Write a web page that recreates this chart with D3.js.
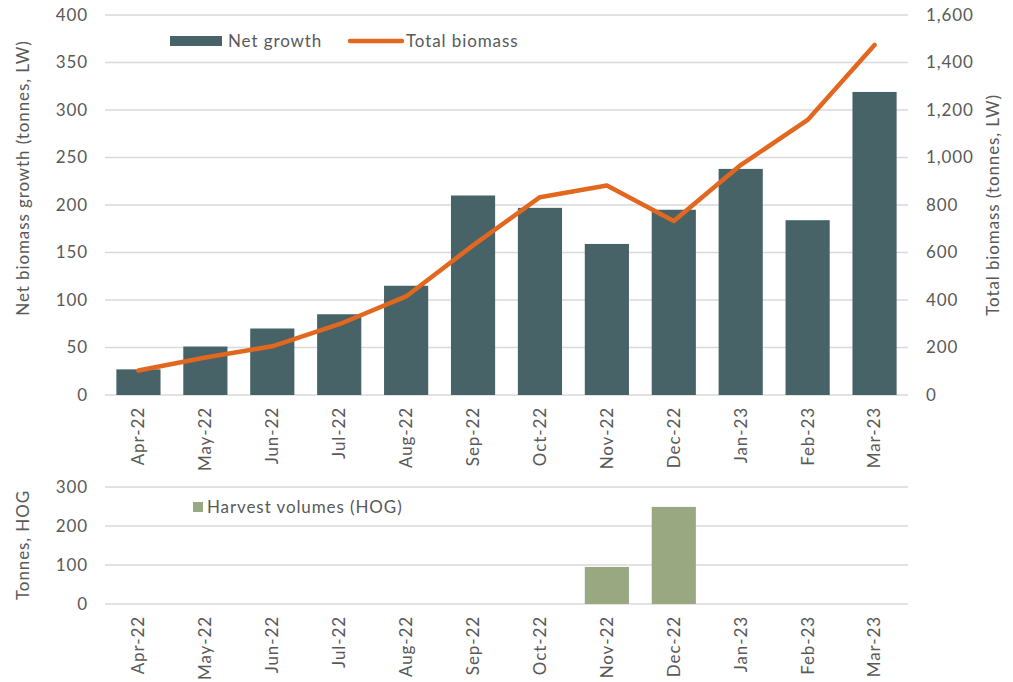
<!DOCTYPE html>
<html>
<head>
<meta charset="utf-8">
<script src="https://cdn.jsdelivr.net/npm/d3@7"></script>
<style>
  body { margin: 0; background: #fff; }
  text { font-family: "Century Gothic", "Lato", sans-serif; fill: #595959; letter-spacing: 0.9px; }
</style>
</head>
<body>
<svg id="chart" width="1013" height="682"></svg>
<script>
const months = ['Apr-22', 'May-22', 'Jun-22', 'Jul-22', 'Aug-22', 'Sep-22',
  'Oct-22', 'Nov-22', 'Dec-22', 'Jan-23', 'Feb-23', 'Mar-23'];
const netGrowth = [27, 51, 70, 85, 115, 210, 197, 159, 195, 238, 184, 319];
const totalBiomass = [103, 158, 205, 298, 415, 630, 833, 882, 733, 968, 1158, 1474];
const harvest = [0, 0, 0, 0, 0, 0, 0, 95, 249, 0, 0, 0];
const leftTicks = [0, 50, 100, 150, 200, 250, 300, 350, 400];
const rightTicks = [0, 200, 400, 600, 800, 1000, 1200, 1400, 1600];
const harvestTicks = [0, 100, 200, 300];

const svg = d3.select('#chart');
const left = 105, right = 908;
const grid = '#d9d9d9';

const x = d3.scaleBand().domain(months).range([left, right]).paddingInner(0.34).paddingOuter(0.17);
const yL = d3.scaleLinear().domain([0, 400]).range([395, 15]);
const yR = d3.scaleLinear().domain([0, 1600]).range([395, 15]);
const yH = d3.scaleLinear().domain([0, 300]).range([604, 487]);

// Top chart gridlines
svg.append('g').selectAll('line').data(leftTicks).join('line')
  .attr('x1', left).attr('x2', right)
  .attr('y1', d => yL(d)).attr('y2', d => yL(d))
  .attr('stroke', grid).attr('stroke-width', 1.5);

const fmt = d3.format(',');
svg.append('g').selectAll('text').data(leftTicks).join('text')
  .attr('x', 88).attr('y', d => yL(d)).attr('dy', '0.35em')
  .attr('text-anchor', 'end').style('font-size', '17px').text(d => d);
svg.append('g').selectAll('text').data(rightTicks).join('text')
  .attr('x', 926).attr('y', d => yR(d)).attr('dy', '0.35em')
  .attr('text-anchor', 'start').style('font-size', '17px').text(d => fmt(d));

// Net growth bars
svg.append('g').selectAll('rect').data(netGrowth).join('rect')
  .attr('x', (d, i) => x(months[i])).attr('width', x.bandwidth())
  .attr('y', d => yL(d)).attr('height', d => yL(0) - yL(d))
  .attr('fill', '#476367');

// Total biomass line
const line = d3.line()
  .x((d, i) => x(months[i]) + x.bandwidth() / 2)
  .y(d => yR(d));
svg.append('path').datum(totalBiomass)
  .attr('d', line).attr('fill', 'none')
  .attr('stroke', '#E2671F').attr('stroke-width', 4.5)
  .attr('stroke-linecap', 'round').attr('stroke-linejoin', 'round');

// Top x labels
svg.append('g').selectAll('text').data(months).join('text')
  .attr('transform', d => `translate(${x(d) + x.bandwidth() / 2},407) rotate(-90)`)
  .attr('text-anchor', 'end').attr('dy', '0.35em')
  .style('font-size', '17px').text(d => d);

// Axis titles
svg.append('text')
  .attr('transform', 'translate(23,178) rotate(-90)')
  .attr('text-anchor', 'middle').attr('dy', '0.35em')
  .style('font-size', '17px').text('Net biomass growth (tonnes, LW)');
svg.append('text')
  .attr('transform', 'translate(993,205) rotate(-90)')
  .attr('text-anchor', 'middle').attr('dy', '0.35em')
  .style('font-size', '17px').text('Total biomass (tonnes, LW)');

// Top legend
svg.append('rect').attr('x', 170).attr('y', 36).attr('width', 52).attr('height', 10).attr('fill', '#476367');
svg.append('text').attr('x', 228).attr('y', 41).attr('dy', '0.35em').style('font-size', '17px').text('Net growth');
svg.append('line').attr('x1', 350).attr('x2', 402).attr('y1', 41).attr('y2', 41)
  .attr('stroke', '#E2671F').attr('stroke-width', 4.5).attr('stroke-linecap', 'round');
svg.append('text').attr('x', 406).attr('y', 41).attr('dy', '0.35em').style('font-size', '17px').text('Total biomass');

// Bottom chart
svg.append('g').selectAll('line').data(harvestTicks).join('line')
  .attr('x1', left).attr('x2', right)
  .attr('y1', d => yH(d)).attr('y2', d => yH(d))
  .attr('stroke', grid).attr('stroke-width', 1.5);
svg.append('g').selectAll('text').data(harvestTicks).join('text')
  .attr('x', 88).attr('y', d => yH(d)).attr('dy', '0.35em')
  .attr('text-anchor', 'end').style('font-size', '17px').text(d => d);

svg.append('g').selectAll('rect').data(harvest).join('rect')
  .attr('x', (d, i) => x(months[i])).attr('width', x.bandwidth())
  .attr('y', d => yH(d)).attr('height', d => yH(0) - yH(d))
  .attr('fill', '#9AA882');

svg.append('g').selectAll('text').data(months).join('text')
  .attr('transform', d => `translate(${x(d) + x.bandwidth() / 2},616) rotate(-90)`)
  .attr('text-anchor', 'end').attr('dy', '0.35em')
  .style('font-size', '17px').text(d => d);

svg.append('text')
  .attr('transform', 'translate(23,545) rotate(-90)')
  .attr('text-anchor', 'middle').attr('dy', '0.35em')
  .style('font-size', '17px').text('Tonnes, HOG');

svg.append('rect').attr('x', 193).attr('y', 502).attr('width', 10).attr('height', 10).attr('fill', '#9AA882');
svg.append('text').attr('x', 207).attr('y', 507).attr('dy', '0.35em').style('font-size', '17px').text('Harvest volumes (HOG)');
</script>
</body>
</html>
